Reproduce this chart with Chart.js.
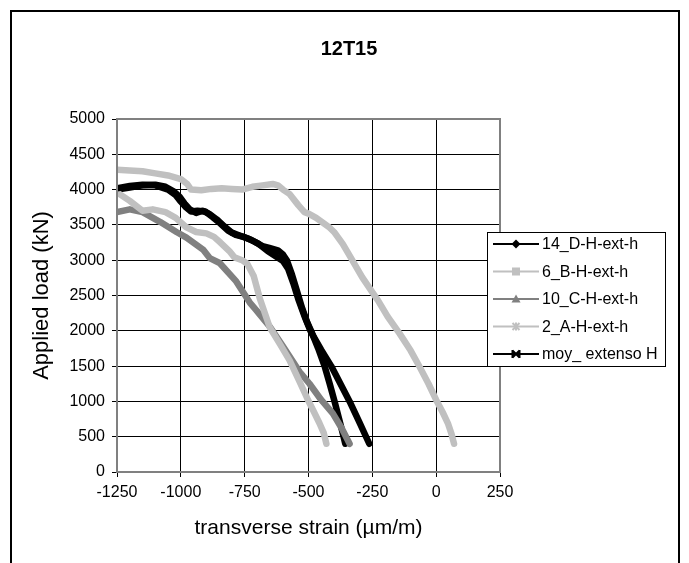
<!DOCTYPE html>
<html lang="en">
<head>
<meta charset="UTF-8">
<title>12T15</title>
<script src="https://cdn.jsdelivr.net/npm/chart.js"></script>
<style>
  html, body { margin: 0; padding: 0; background: #fff; }
</style>
</head>
<body>
<canvas id="strainChart" width="689" height="563"></canvas>
<script>
// axis ranges / ticks
const xMin = -1250, xMax = 250, xStep = 250;
const yMin = 0, yMax = 5000, yStep = 500;

const seriesNames = ["14_D-H-ext-h", "6_B-H-ext-h", "10_C-H-ext-h", "2_A-H-ext-h", "moy_ extenso H"];

// 14_D-H-ext-h
const strain14D = [-1250, -1200, -1150, -1100, -1060, -1030, -1005, -985, -965, -940, -915, -890, -860, -830, -800, -770, -740, -710, -680, -650, -620, -600, -585, -565, -545, -525, -505, -490, -462, -437, -417, -398, -380, -366, -356];
const load14D = [4000, 4030, 4060, 4070, 4040, 3980, 3900, 3800, 3720, 3670, 3700, 3660, 3580, 3480, 3390, 3350, 3310, 3260, 3200, 3170, 3140, 3080, 3000, 2800, 2560, 2320, 2120, 2000, 1750, 1500, 1250, 1000, 750, 550, 400];

// 6_B-H-ext-h
const strain6B = [-1250, -1200, -1150, -1100, -1050, -1000, -975, -960, -920, -880, -840, -800, -760, -720, -680, -640, -620, -600, -575, -540, -516, -500, -470, -440, -417, -400, -366, -327, -290, -249, -228, -190, -143, -100, -65, -30, 0, 25, 46, 60, 70];
const load6B = [4280, 4270, 4260, 4230, 4200, 4150, 4080, 4000, 3990, 4010, 4020, 4010, 4000, 4040, 4060, 4080, 4060, 4000, 3940, 3780, 3680, 3660, 3600, 3520, 3460, 3400, 3230, 2990, 2760, 2540, 2430, 2200, 1960, 1720, 1490, 1250, 1020, 850, 690, 540, 400];

// 10_C-H-ext-h
const strain10C = [-1250, -1200, -1150, -1080, -1017, -978, -913, -887, -848, -783, -730, -704, -650, -600, -535, -496, -450, -405, -370, -339];
const load10C = [3680, 3720, 3680, 3540, 3400, 3320, 3150, 3030, 2960, 2700, 2400, 2290, 2050, 1780, 1420, 1250, 1020, 830, 620, 400];

// 2_A-H-ext-h
const strain2A = [-1250, -1200, -1150, -1110, -1060, -1020, -980, -940, -900, -870, -845, -810, -790, -760, -740, -715, -690, -652, -610, -574, -535, -502, -480, -457, -440, -430];
const load2A = [3960, 3840, 3700, 3720, 3680, 3600, 3470, 3400, 3380, 3330, 3250, 3130, 3040, 3000, 2950, 2780, 2450, 2050, 1800, 1580, 1280, 1020, 860, 690, 550, 400];

// moy_ extenso H
const strainMoy = [-1250, -1200, -1150, -1100, -1050, -1020, -1000, -980, -960, -935, -905, -875, -845, -815, -785, -755, -725, -695, -660, -630, -600, -580, -560, -540, -515, -490, -450, -411, -375, -339, -300, -262];
const loadMoy = [4020, 4050, 4070, 4060, 4000, 3920, 3830, 3750, 3690, 3700, 3690, 3610, 3520, 3420, 3360, 3330, 3290, 3230, 3130, 3060, 2990, 2880, 2680, 2450, 2200, 1980, 1730, 1500, 1250, 1000, 700, 400];

const lineColors = ["#000000", "#c0c0c0", "#808080", "#c0c0c0", "#000000"];
const markerKinds = ["diamond", "square", "triangle", "cross", "star"];

const FONT = "'Liberation Sans', Arial, sans-serif";

function pts(xs, ys) {
    return xs.map((x, i) => ({ x: x, y: ys[i] }));
}

const allData = [
    pts(strain14D, load14D),
    pts(strain6B, load6B),
    pts(strain10C, load10C),
    pts(strain2A, load2A),
    pts(strainMoy, loadMoy)
];

function drawMarker(ctx, kind, x, y, color) {
    ctx.save();
    ctx.fillStyle = color;
    ctx.strokeStyle = color;
    ctx.lineWidth = 2;
    ctx.beginPath();
    if (kind === "diamond") {
        ctx.moveTo(x, y - 4.5); ctx.lineTo(x + 4.5, y); ctx.lineTo(x, y + 4.5); ctx.lineTo(x - 4.5, y);
        ctx.closePath(); ctx.fill();
    } else if (kind === "square") {
        ctx.fillRect(x - 4, y - 4, 8, 8);
    } else if (kind === "triangle") {
        ctx.moveTo(x, y - 4.5); ctx.lineTo(x + 4.5, y + 3.5); ctx.lineTo(x - 4.5, y + 3.5);
        ctx.closePath(); ctx.fill();
    } else {
        ctx.moveTo(x - 3.5, y - 3.5); ctx.lineTo(x + 3.5, y + 3.5);
        ctx.moveTo(x + 3.5, y - 3.5); ctx.lineTo(x - 3.5, y + 3.5);
        if (kind === "star") {
            ctx.moveTo(x - 3.5, y - 4); ctx.lineTo(x - 3.5, y + 4);
            ctx.moveTo(x + 3.5, y - 4); ctx.lineTo(x + 3.5, y + 4);
        } else {
            ctx.moveTo(x, y - 4); ctx.lineTo(x, y + 4);
        }
        ctx.stroke();
    }
    ctx.restore();
}

// white page, outer frame, plot border, title and legend
const framePlugin = {
    id: "frame",
    beforeDraw(chart) {
        const ctx = chart.ctx;
        ctx.save();
        ctx.fillStyle = "#ffffff";
        ctx.fillRect(0, 0, chart.width, chart.height);
        ctx.strokeStyle = "#000000";
        ctx.lineWidth = 2;
        ctx.strokeRect(11, 11, 668, 600);
        ctx.restore();
    },
    afterDatasetsDraw(chart) {
        const ctx = chart.ctx;
        const a = chart.chartArea;
        ctx.save();
        ctx.strokeStyle = "#808080";
        ctx.lineWidth = 2;
        ctx.strokeRect(a.left, a.top, a.right - a.left, a.bottom - a.top);
        ctx.restore();
    },
    afterDraw(chart) {
        const ctx = chart.ctx;
        ctx.save();
        // title
        ctx.fillStyle = "#000000";
        ctx.font = "bold 20px " + FONT;
        ctx.textAlign = "center";
        ctx.textBaseline = "alphabetic";
        ctx.fillText("12T15", 349, 55);

        // legend box
        const bx = 487, by = 232, bw = 178, bh = 134;
        ctx.fillStyle = "#ffffff";
        ctx.fillRect(bx, by, bw, bh);
        ctx.strokeStyle = "#000000";
        ctx.lineWidth = 1;
        ctx.strokeRect(bx + 0.5, by + 0.5, bw, bh);

        ctx.font = "16px " + FONT;
        ctx.textAlign = "left";
        ctx.textBaseline = "middle";
        seriesNames.forEach((name, i) => {
            const y = 244 + i * 27.5;
            ctx.strokeStyle = lineColors[i];
            ctx.lineWidth = 2;
            ctx.beginPath();
            ctx.moveTo(493, y);
            ctx.lineTo(539, y);
            ctx.stroke();
            drawMarker(ctx, markerKinds[i], 516, y, lineColors[i]);
            ctx.fillStyle = "#000000";
            ctx.fillText(name, 542, y + 1);
        });
        ctx.restore();
    }
};

const ctx = document.getElementById("strainChart").getContext("2d");

new Chart(ctx, {
    type: "scatter",
    data: {
        datasets: seriesNames.map((name, i) => ({
            label: name,
            data: allData[i],
            showLine: true,
            borderColor: lineColors[i],
            backgroundColor: lineColors[i],
            borderWidth: 6.5,
            borderJoinStyle: "round",
            borderCapStyle: "round",
            pointRadius: 0,
            tension: 0,
            order: 5 - i
        }))
    },
    options: {
        responsive: false,
        devicePixelRatio: 1,
        animation: false,
        layout: {
            padding: { left: 0, top: 119, right: 189, bottom: 0 }
        },
        plugins: {
            legend: { display: false },
            tooltip: { enabled: false },
            title: { display: false }
        },
        scales: {
            x: {
                type: "linear",
                min: xMin,
                max: xMax,
                ticks: {
                    stepSize: xStep,
                    color: "#000000",
                    font: { family: FONT, size: 16 },
                    padding: 6,
                    maxRotation: 0,
                    callback: v => String(v)
                },
                grid: { color: "#000000", lineWidth: 1, tickLength: 5 },
                border: { color: "#808080", width: 2 },
                title: {
                    display: true,
                    text: "transverse strain (µm/m)",
                    color: "#000000",
                    font: { family: FONT, size: 21 },
                    padding: { top: 0, bottom: 22 }
                },
                afterFit(scale) { scale.height = 91; }
            },
            y: {
                type: "linear",
                min: yMin,
                max: yMax,
                ticks: {
                    stepSize: yStep,
                    color: "#000000",
                    font: { family: FONT, size: 16 },
                    padding: 7,
                    callback: v => String(v)
                },
                grid: { color: "#000000", lineWidth: 1, tickLength: 5 },
                border: { color: "#808080", width: 2 },
                title: {
                    display: true,
                    text: "Applied load (kN)",
                    color: "#000000",
                    font: { family: FONT, size: 22 },
                    padding: { top: 29, bottom: 0 }
                },
                afterFit(scale) { scale.width = 117; }
            }
        }
    },
    plugins: [framePlugin]
});
</script>
</body>
</html>
